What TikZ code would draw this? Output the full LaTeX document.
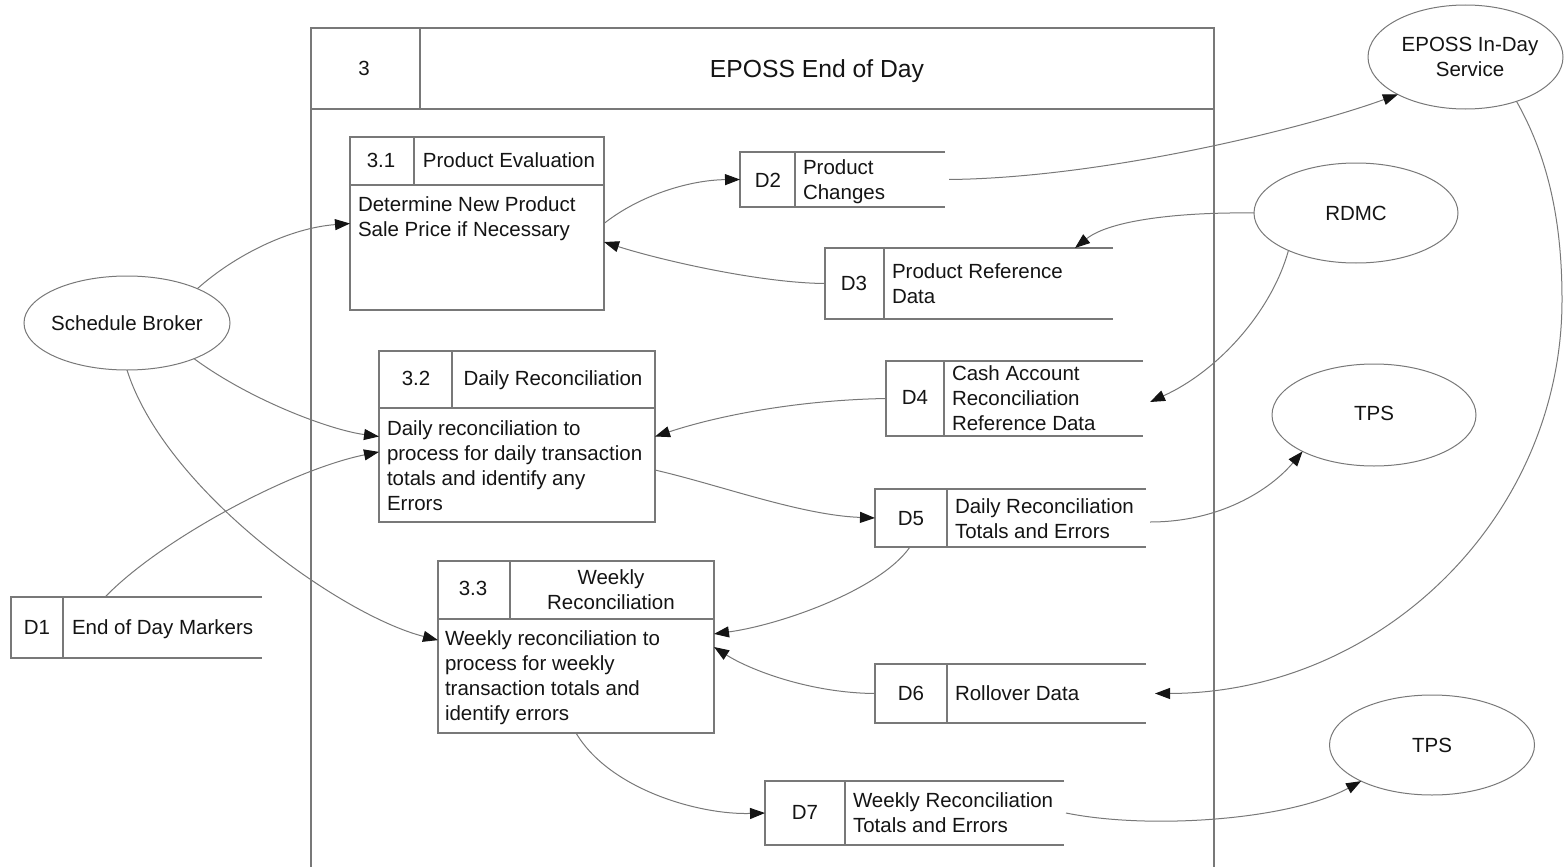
\documentclass[tikz,border=0pt]{standalone}
\usepackage{fontspec}
\setmainfont{Liberation Sans}
\usetikzlibrary{shapes.geometric,arrows.meta,calc}
\definecolor{edge}{RGB}{120,120,120}
\definecolor{ink}{RGB}{20,20,20}
% strut centred on the cap height, one baselineskip tall
\newcommand\lnstrut{\rule[-2.55pt]{0pt}{12.5pt}}
\newcommand\openside[1]{\draw[frame] (#1.north east) -- (#1.north west) -- (#1.south west) -- (#1.south east);}
\begin{document}
\begin{tikzpicture}[x=0.5pt,y=-0.5pt,
  every node/.style={inner sep=0pt, outer sep=0pt},
  frame/.style={draw=edge, line width=0.6pt},
  procbox/.style={rectangle, draw=edge, line width=0.6pt},
  store/.style={rectangle, draw=none},
  ext/.style={ellipse, draw=edge, line width=0.5pt},
  txt/.style={font=\fontsize{10.25}{12.5}\selectfont, text=ink, align=left,
    execute at begin node=\lnstrut, execute at end node=\lnstrut},
  mtxt/.style={txt, yshift=-1.5pt},
  ctxt/.style={txt, align=center},
  mctxt/.style={mtxt, align=center},
  flow/.style={draw=edge, line width=0.5pt,
    -{Triangle[length=7.5pt,width=5.5pt,color=ink,fill=ink]}}]
\useasboundingbox (0,0) rectangle (1564,867);

% ---- process 3 frame (open at the bottom) ----
\node[store, minimum width=451.5pt, minimum height=419.5pt] (p3) at (762.5,447.5) {};
\draw[frame] (p3.south west) -- (p3.north west) -- (p3.north east) -- (p3.south east);
\draw[frame] (311,109) -- (1214,109);
\draw[frame] (420,28) -- (420,109);
\node[txt] (p3id) at (364,68) {3};
\node[font=\fontsize{12.35}{14}\selectfont, text=ink, anchor=base] (p3title) at (817,77) {EPOSS End of Day};

% ---- sub-processes ----
\node[procbox, minimum width=127pt, minimum height=86.5pt] (p31) at (477,223.5) {};
\draw[frame] (350,185) -- (604,185);
\draw[frame] (414,137) -- (414,185);
\node[txt] (p31id) at (381,160) {3.1};
\node[txt] (p31name) at (509,160) {Product Evaluation};
\node[mtxt, anchor=west] (p31body) at (358,216.5) {Determine New Product\\Sale Price if Necessary};

\node[procbox, minimum width=138pt, minimum height=85.5pt] (p32) at (517,436.5) {};
\draw[frame] (379,408) -- (655,408);
\draw[frame] (452,351) -- (452,408);
\node[txt] (p32id) at (416,378) {3.2};
\node[txt] (p32name) at (553,378) {Daily Reconciliation};
\node[mtxt, anchor=west] (p32body) at (387,465) {Daily reconciliation to\\process for daily transaction\\totals and identify any\\Errors};

\node[procbox, minimum width=138pt, minimum height=86pt] (p33) at (576,647) {};
\draw[frame] (438,619) -- (714,619);
\draw[frame] (510,561) -- (510,619);
\node[txt] (p33id) at (473,588) {3.3};
\node[mctxt] (p33name) at (611,589) {Weekly\\Reconciliation};
\node[mtxt, anchor=west] (p33body) at (445,675) {Weekly reconciliation to\\process for weekly\\transaction totals and\\identify errors};

% ---- data stores (open on the right) ----
\node[store, minimum width=125.5pt, minimum height=30.5pt] (d1) at (136.5,627.5) {};
\openside{d1}
\draw[frame] (63,597) -- (63,658);
\node[txt] (d1id) at (37,627) {D1};
\node[txt, anchor=west] (d1name) at (72,627) {End of Day Markers};

\node[store, minimum width=102.5pt, minimum height=27.5pt] (d2) at (842.5,179.5) {};
\openside{d2}
\draw[frame] (795,152) -- (795,207);
\node[txt] (d2id) at (768,180) {D2};
\node[mtxt, anchor=west] (d2name) at (803,179.5) {Product\\Changes};

\node[store, minimum width=144pt, minimum height=35.5pt] (d3) at (969,283.5) {};
\openside{d3}
\draw[frame] (884,248) -- (884,319);
\node[txt] (d3id) at (854,283) {D3};
\node[mtxt, anchor=west] (d3name) at (892,283.5) {Product Reference\\Data};

\node[store, minimum width=128.5pt, minimum height=37.5pt] (d4) at (1014.5,398.5) {};
\openside{d4}
\draw[frame] (944,361) -- (944,436);
\node[txt] (d4id) at (915,397) {D4};
\node[mtxt, anchor=west] (d4name) at (952,397.5) {Cash Account\\Reconciliation\\Reference Data};

\node[store, minimum width=135.5pt, minimum height=29pt] (d5) at (1010.5,518) {};
\openside{d5}
\draw[frame] (947,489) -- (947,547);
\node[txt] (d5id) at (911,518) {D5};
\node[mtxt, anchor=west] (d5name) at (955,518) {Daily Reconciliation\\Totals and Errors};

\node[store, minimum width=135.5pt, minimum height=29.5pt] (d6) at (1010.5,693.5) {};
\openside{d6}
\draw[frame] (947,664) -- (947,723);
\node[txt] (d6id) at (911,693) {D6};
\node[txt, anchor=west] (d6name) at (955,693) {Rollover Data};

\node[store, minimum width=149.5pt, minimum height=32pt] (d7) at (914.5,813) {};
\openside{d7}
\draw[frame] (845,781) -- (845,845);
\node[txt] (d7id) at (805,812) {D7};
\node[mtxt, anchor=west] (d7name) at (853,812.5) {Weekly Reconciliation\\Totals and Errors};

% ---- external entities ----
\node[ext, minimum width=103pt, minimum height=47pt] (sb) at (127,323) {};
\node[ctxt] (sbt) at (127,323) {Schedule Broker};
\node[ext, minimum width=97.5pt, minimum height=52pt] (eid) at (1465.5,57) {};
\node[mctxt] (eidt) at (1470,56.5) {EPOSS In-Day\\Service};
\node[ext, minimum width=102pt, minimum height=50pt] (rdmc) at (1356,213) {};
\node[ctxt] (rdmct) at (1356,213) {RDMC};
\node[ext, minimum width=102pt, minimum height=51pt] (tps1) at (1374,415) {};
\node[ctxt] (tps1t) at (1374,413) {TPS};
\node[ext, minimum width=102.5pt, minimum height=50pt] (tps2) at (1432,745) {};
\node[ctxt] (tps2t) at (1432,745) {TPS};

% ---- data flows ----
\draw[flow] (sb.26) .. controls (235,255) and (290,228) .. (p31.west);
\draw[flow] (sb.-28) .. controls (250,400) and (330,430) .. (p32.west);
\draw[flow] (sb.south) .. controls (165,490) and (340,615) .. ($(p33.north west)!0.46!(p33.south west)$);
\draw[flow] ($(d1.north west)!0.375!(d1.north east)$) .. controls (160,540) and (290,470) .. ($(p32.north west)!0.59!(p32.south west)$);
\draw[flow] (p31.east) .. controls (640,195) and (690,180) .. (d2.west);
\draw[flow] (d3.west) .. controls (760,283) and (660,260) .. ($(p31.north east)!0.607!(p31.south east)$);
\draw[flow] ([xshift=2pt]d2.east) .. controls (1100,178) and (1300,130) .. (eid.209);
\draw[flow] (rdmc.west) .. controls (1180,212) and (1110,220) .. ($(d3.north west)!0.868!(d3.north east)$);
\draw[flow] (rdmc.209) .. controls (1272,310) and (1220,370) .. ([xshift=3.5pt,yshift=-1.75pt]d4.east);
\draw[flow] (d4.west) .. controls (800,400) and (720,415) .. (p32.east);
\draw[flow] ($(p32.north east)!0.696!(p32.south east)$) .. controls (720,485) and (800,515) .. (d5.west);
\draw[flow] ([xshift=2pt,yshift=-2pt]d5.east) .. controls (1220,522) and (1270,490) .. (tps1.207);
\draw[flow] ($(d5.south west)!0.129!(d5.south east)$) .. controls (880,590) and (780,625) .. ($(p33.north east)!0.424!(p33.south east)$);
\draw[flow] (d6.west) .. controls (810,693) and (750,670) .. (p33.east);
\draw[flow] (eid.-41) .. controls (1552,164) and (1562,232) .. (1562,300)
  .. controls (1562,517) and (1381,693) .. ([xshift=4.5pt]d6.east);
\draw[flow] (p33.south) .. controls (610,790) and (700,815) .. (d7.west);
\draw[flow] ([xshift=1pt]d7.east) .. controls (1150,830) and (1290,820) .. (tps2.207);
\end{tikzpicture}
\end{document}
